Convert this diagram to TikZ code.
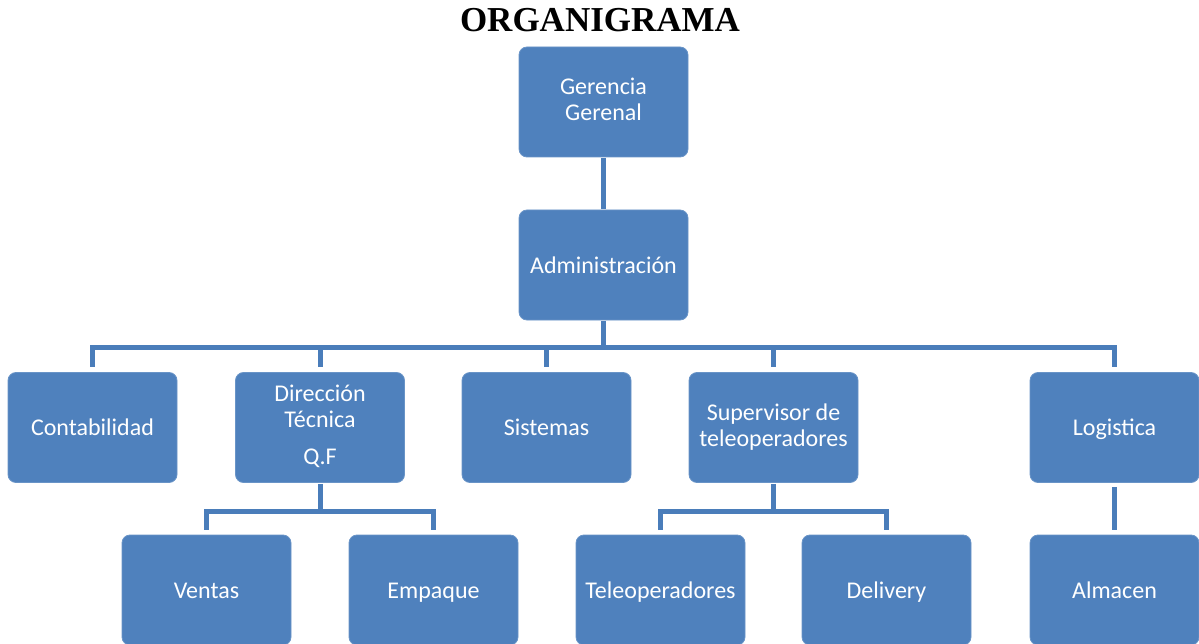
\documentclass[tikz,border=0pt]{standalone}
\usepackage{fontspec}
\setmainfont{Carlito}
\newfontfamily\titlefont{Liberation Serif}
\definecolor{boxblue}{HTML}{4F81BD}
\definecolor{lineblue}{HTML}{4A7DBA}
\newcommand\bxstrut{\rule[-4.8pt]{0pt}{26pt}}
\begin{document}
\begin{tikzpicture}[x=1pt,y=-1pt,
  box/.style={rectangle, rounded corners=8pt, fill=boxblue, draw=boxblue!85!white, line width=0.8pt,
    minimum width=169pt, minimum height=110pt, inner sep=2pt, text=white, align=center,
    font=\fontsize{24}{26}\selectfont, execute at begin node=\bxstrut},
  conn/.style={draw=lineblue, line width=5pt, line join=miter}]
\useasboundingbox (0,0) rectangle (1199,644);
\node[font=\titlefont\bfseries\fontsize{35}{40}\selectfont, anchor=base] (title) at (600,32) {ORGANIGRAMA};
\node[box] (ger) at (603.5,102) {Gerencia\\Gerenal\bxstrut};
\node[box] (adm) at (603.5,265) {Administración};
\node[box] (cont) at (92.5,427.5) {Contabilidad};
\node[box] (dir) at (320,427.5) {Dirección\\Técnica\\[11pt]Q.F\bxstrut};
\node[box] (sis) at (546.5,427.5) {Sistemas};
\node[box] (sup) at (773.5,427.5) {Supervisor de\\teleoperadores\bxstrut};
\node[box] (log) at (1114.5,427.5) {Logistica};
\node[box] (ven) at (206.5,590) {Ventas};
\node[box] (emp) at (433.5,590) {Empaque};
\node[box] (tel) at (660.5,590) {Teleoperadores};
\node[box] (del) at (886.5,590) {Delivery};
\node[box] (alm) at (1114.5,590) {Almacen};
\coordinate (bus) at (603.5,347);
\coordinate (dbus) at (320,511);
\coordinate (sbus) at (773.5,511);
\draw[conn, shorten <=1pt, shorten >=1pt] (ger.south) -- (adm.north);
\draw[conn, shorten <=1pt] (adm.south) -- (bus);
\foreach \t in {cont,dir,sis,sup,log}{
  \draw[conn, shorten >=5pt] (bus) -| (\t.north);
}
\draw[conn, shorten <=1pt] (dir.south) -- (dbus);
\foreach \t in {ven,emp}{
  \draw[conn, shorten >=5pt] (dbus) -| (\t.north);
}
\draw[conn, shorten <=1pt] (sup.south) -- (sbus);
\foreach \t in {tel,del}{
  \draw[conn, shorten >=5pt] (sbus) -| (\t.north);
}
\draw[conn, shorten <=4pt, shorten >=5pt] (log.south) -- (alm.north);
\end{tikzpicture}
\end{document}
